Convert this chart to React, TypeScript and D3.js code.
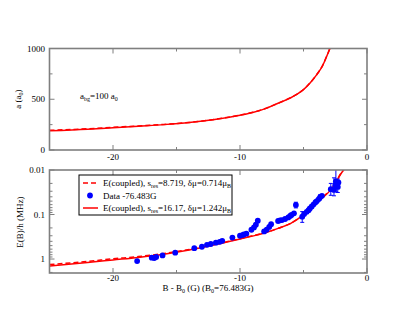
import { useEffect, useRef } from 'react';
import * as d3 from 'd3';

// upper panel: scattering length a(B)
const aB = [-25, -22, -20, -18, -16, -14, -12, -10, -9, -8, -7, -6, -5.5, -5, -4.5, -4, -3.5, -3.2, -3, -2.85, -2.7];
const aSolid = [189, 205, 220, 235, 250, 270, 300, 343, 370, 408, 460, 515, 550, 595, 658, 735, 830, 915, 975, 1025, 1080];
const aDashed = [194, 209, 223, 237, 252, 271, 301, 344, 371, 409, 461, 516, 551, 596, 659, 736, 831, 916, 976, 1026, 1081];

// lower panel: binding energy curves
const eB = [-25, -22, -20, -18, -16, -14, -12, -10, -9, -8, -7, -6, -5, -4.5, -4, -3.5, -3, -2.5, -2, -1.7];
const eSolid = [1.43, 1.2, 1.05, 0.92, 0.78, 0.63, 0.48, 0.355, 0.305, 0.257, 0.205, 0.158, 0.102, 0.078, 0.056, 0.042, 0.031, 0.02, 0.0115, 0.009];
const eDashed = [1.33, 1.13, 0.99, 0.88, 0.75, 0.61, 0.47, 0.35, 0.3, 0.255, 0.204, 0.157, 0.101, 0.077, 0.055, 0.041, 0.03, 0.0195, 0.0112, 0.0088];

// measured data (-76.483G)
const dataB = [-18.1, -16.95, -16.75, -16.6, -16.1, -15.1, -13.6, -13.0, -12.6, -12.3, -11.9, -11.6, -11.4, -10.6, -10.0, -9.8, -9.7, -9.5, -9.1, -8.9, -8.75, -8.6, -8.1, -7.9, -7.7, -7.55, -7.0, -6.85, -6.7, -6.45, -6.2, -6.05, -5.95, -5.75, -5.6, -5.1, -4.95, -4.75, -4.6, -4.5, -4.35, -4.2, -4.05, -3.95, -3.8, -3.7, -3.55, -2.85, -2.6, -2.5, -2.45, -2.35, -2.3, -2.25];
const dataE = [1.11, 0.93, 0.95, 0.9, 0.83, 0.72, 0.57, 0.53, 0.48, 0.46, 0.43, 0.41, 0.39, 0.33, 0.3, 0.29, 0.28, 0.27, 0.22, 0.195, 0.17, 0.138, 0.24, 0.22, 0.19, 0.165, 0.14, 0.135, 0.133, 0.126, 0.116, 0.108, 0.102, 0.094, 0.061, 0.112, 0.098, 0.087, 0.08, 0.073, 0.066, 0.059, 0.053, 0.05, 0.045, 0.041, 0.038, 0.027, 0.028, 0.022, 0.018, 0.02, 0.024, 0.019];
const errLo = [0, 0, 0, 0, 0, 0, 0, 0, 0, 0, 0, 0, 0, 0, 0, 0, 0, 0, 0, 0, 0, 0, 0, 0, 0, 0, 0, 0, 0, 0, 0, 0, 0, 0, 0.053, 0.086, 0, 0, 0, 0, 0, 0, 0, 0, 0, 0.036, 0, 0.02, 0.015, 0, 0.009, 0, 0.016, 0];
const errHi = [0, 0, 0, 0, 0, 0, 0, 0, 0, 0, 0, 0, 0, 0, 0, 0, 0, 0, 0, 0, 0, 0, 0, 0, 0, 0, 0, 0, 0, 0, 0, 0, 0, 0, 0.071, 0.15, 0, 0, 0, 0, 0, 0, 0, 0, 0, 0.047, 0, 0.037, 0.038, 0, 0.03, 0, 0.032, 0];

const xMajor = [-20, -10, 0];
const xMinor = [-15, -5];
const aMajor = [0, 500, 1000];
const aMinor = [250, 750];
const eMajor = [0.01, 0.1, 1];

const FONT = "'Liberation Serif', 'Times New Roman', Times, serif";

export default function App() {
  const svgRef = useRef<SVGSVGElement>(null);

  useEffect(() => {
    const svg = d3.select(svgRef.current);
    svg.selectAll('*').remove();

    const left = 49.5, right = 367;
    const x = d3.scaleLinear().domain([-25, 0]).range([left, right]);
    const ya = d3.scaleLinear().domain([0, 1000]).range([150, 48.5]);
    const ye = d3.scaleLog().domain([0.01, 2.06]).range([170, 273]);

    const eMinor: number[] = [];
    [0.01, 0.1, 1].forEach((d) => {
      for (let k = 2; k <= 9; k++) if (d * k <= 2.06) eMinor.push(d * k);
    });

    const frameColor = '#7f7f7f';

    // clip paths
    const defs = svg.append('defs');
    defs.append('clipPath').attr('id', 'clipA').append('rect')
      .attr('x', left).attr('y', ya(1000)).attr('width', right - left).attr('height', ya(0) - ya(1000));
    defs.append('clipPath').attr('id', 'clipE').append('rect')
      .attr('x', left).attr('y', 170).attr('width', right - left).attr('height', 103);

    function frame(y0: number, y1: number, yMaj: number[], yMin: number[], ys: (v: number) => number) {
      const g = svg.append('g').attr('stroke', frameColor).attr('stroke-width', 1);
      xMajor.concat(xMinor).forEach((t) => {
        const len = xMajor.includes(t) ? 5 : 3;
        g.append('line').attr('x1', x(t)).attr('x2', x(t)).attr('y1', y1).attr('y2', y1 - len);
        g.append('line').attr('x1', x(t)).attr('x2', x(t)).attr('y1', y0).attr('y2', y0 + len);
      });
      yMaj.concat(yMin).forEach((t) => {
        const len = yMaj.includes(t) ? 5 : 3;
        g.append('line').attr('x1', left).attr('x2', left + len).attr('y1', ys(t)).attr('y2', ys(t));
        g.append('line').attr('x1', right).attr('x2', right - len).attr('y1', ys(t)).attr('y2', ys(t));
      });
      svg.append('rect').attr('x', left).attr('y', y0).attr('width', right - left).attr('height', y1 - y0)
        .attr('fill', 'none').attr('stroke', frameColor).attr('stroke-width', 1.6);
    }

    const txt = (xx: number, yy: number, s: string, anchor = 'middle') =>
      svg.append('text').attr('x', xx).attr('y', yy).attr('text-anchor', anchor)
        .attr('font-family', FONT).attr('font-size', 9).attr('fill', '#000').text(s);

    // ---- upper panel
    const lineA = d3.line<number>().x((_, i) => x(aB[i])).y((d) => ya(d)).curve(d3.curveMonotoneX);
    const gA = svg.append('g').attr('clip-path', 'url(#clipA)');
    gA.append('path').attr('d', lineA(aDashed)).attr('fill', 'none').attr('stroke', '#ff0000')
      .attr('stroke-width', 1.5).attr('stroke-dasharray', '5,3');
    gA.append('path').attr('d', lineA(aSolid)).attr('fill', 'none').attr('stroke', '#ff0000').attr('stroke-width', 1.5);
    frame(ya(1000), ya(0), aMajor, aMinor, ya);
    aMajor.forEach((t) => txt(45, ya(t) + 3, String(t), 'end'));
    xMajor.forEach((t) => txt(x(t), 160, String(t)));

    const la = svg.append('text').attr('transform', 'translate(21,99) rotate(-90)').attr('text-anchor', 'middle')
      .attr('font-family', FONT).attr('font-size', 9);
    la.append('tspan').text('a (a');
    la.append('tspan').attr('font-size', 6).attr('dy', 2).text('0');
    la.append('tspan').attr('dy', -2).text(')');

    const an = svg.append('text').attr('x', 80).attr('y', 99).attr('font-family', FONT).attr('font-size', 9);
    an.append('tspan').text('a');
    an.append('tspan').attr('font-size', 6).attr('dy', 2).text('bg');
    an.append('tspan').attr('dy', -2).text('=100 a');
    an.append('tspan').attr('font-size', 6).attr('dy', 2).text('0');

    // ---- lower panel
    const lineE = d3.line<number>().x((_, i) => x(eB[i])).y((d) => ye(d)).curve(d3.curveMonotoneX);
    const gE = svg.append('g').attr('clip-path', 'url(#clipE)');
    gE.append('path').attr('d', lineE(eDashed)).attr('fill', 'none').attr('stroke', '#ff0000')
      .attr('stroke-width', 1.5).attr('stroke-dasharray', '5,3');
    gE.append('path').attr('d', lineE(eSolid)).attr('fill', 'none').attr('stroke', '#ff0000').attr('stroke-width', 1.5);

    dataB.forEach((b, i) => {
      if (errLo[i] > 0) {
        gE.append('line').attr('x1', x(b)).attr('x2', x(b)).attr('y1', ye(errLo[i])).attr('y2', ye(errHi[i]))
          .attr('stroke', '#0000ff').attr('stroke-width', 1);
        [errLo[i], errHi[i]].forEach((v) =>
          gE.append('line').attr('x1', x(b) - 2).attr('x2', x(b) + 2).attr('y1', ye(v)).attr('y2', ye(v))
            .attr('stroke', '#0000ff').attr('stroke-width', 1));
      }
    });
    gE.selectAll('circle.pt').data(dataB).enter().append('circle')
      .attr('cx', (d) => x(d)).attr('cy', (_, i) => ye(dataE[i])).attr('r', 2.9).attr('fill', '#0000ff');

    frame(170, 273, eMajor, eMinor, ye);
    eMajor.forEach((t) => txt(45, ye(t) + 3, String(t), 'end'));
    xMajor.forEach((t) => txt(x(t), 281, String(t)));

    svg.append('text').attr('transform', 'translate(23,222) rotate(-90)').attr('text-anchor', 'middle')
      .attr('font-family', FONT).attr('font-size', 9).text('E(B)/h (MHz)');

    const xl = svg.append('text').attr('x', 208).attr('y', 291).attr('text-anchor', 'middle')
      .attr('font-family', FONT).attr('font-size', 9);
    xl.append('tspan').text('B - B');
    xl.append('tspan').attr('font-size', 6).attr('dy', 2).text('0');
    xl.append('tspan').attr('dy', -2).text(' (G) (B');
    xl.append('tspan').attr('font-size', 6).attr('dy', 2).text('0');
    xl.append('tspan').attr('dy', -2).text('=76.483G)');

    // legend
    const lg = svg.append('g');
    lg.append('rect').attr('x', 79).attr('y', 175).attr('width', 153).attr('height', 40)
      .attr('fill', '#fff').attr('stroke', '#000').attr('stroke-width', 1);
    const rows = [183, 195.5, 208];
    lg.append('line').attr('x1', 83).attr('x2', 98).attr('y1', rows[0]).attr('y2', rows[0])
      .attr('stroke', '#ff0000').attr('stroke-width', 1.5).attr('stroke-dasharray', '5,3');
    lg.append('circle').attr('cx', 90).attr('cy', rows[1]).attr('r', 2.9).attr('fill', '#0000ff');
    lg.append('line').attr('x1', 83).attr('x2', 98).attr('y1', rows[2]).attr('y2', rows[2])
      .attr('stroke', '#ff0000').attr('stroke-width', 1.5);

    const legText = (yy: number, s: string, d: string) => {
      const t = lg.append('text').attr('x', 103).attr('y', yy + 3).attr('font-family', FONT).attr('font-size', 9);
      t.append('tspan').text('E(coupled), s');
      t.append('tspan').attr('font-size', 6).attr('dy', 2).text('res');
      t.append('tspan').attr('dy', -2).text(`=${s}, δμ=${d}μ`);
      t.append('tspan').attr('font-size', 6).attr('dy', 2).text('B');
    };
    legText(rows[0], '8.719', '0.714');
    lg.append('text').attr('x', 103).attr('y', rows[1] + 3).attr('font-family', FONT).attr('font-size', 9)
      .text('Data -76.483G');
    legText(rows[2], '16.17', '1.242');
  }, []);

  return (
    <svg ref={svgRef} width={415} height={321}
      style={{ position: 'absolute', left: 0, top: 0, background: '#fff' }} />
  );
}
